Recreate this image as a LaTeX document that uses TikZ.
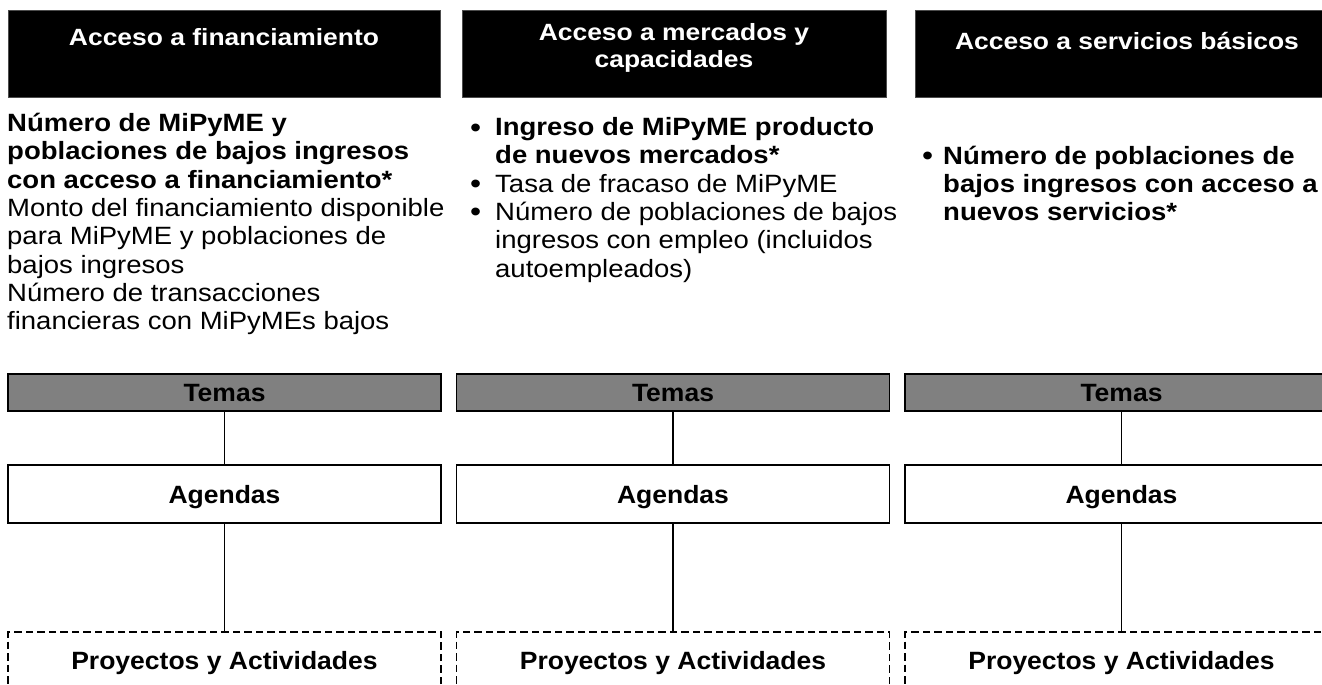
\documentclass[tikz,border=0pt]{standalone}
\usepackage{fontspec}
\setmainfont{Liberation Sans}
\newfontfamily\bodyfont[FakeStretch=1.1]{Liberation Sans}
\newfontfamily\headfont[FakeStretch=1.125]{Liberation Sans}
\newfontfamily\labfont[FakeStretch=1.06]{Liberation Sans}
\definecolor{temagray}{RGB}{128,128,128}
\newcommand{\mybul}[1]{\makebox[#1][l]{\raisebox{-0.06em}{\scalebox{1.15}{•}}}}
\newcommand{\myind}[1]{\hspace*{#1}}
\begin{document}
\begin{tikzpicture}[x=1pt,y=-1pt,
  hdrbox/.style={fill=black, draw=black!70, line width=0.75pt, minimum height=87pt, inner sep=0pt},
  hdrtext/.style={text=white, inner sep=0pt, anchor=base, font={\headfont\bfseries\fontsize{23.5}{26.7}\selectfont}},
  body/.style={inner sep=0pt, anchor=base west, font={\bodyfont\fontsize{25}{28.3}\selectfont}},
  lab/.style={inner sep=0pt, text depth=0pt, minimum width=433pt, font={\labfont\bfseries\fontsize{25}{30}\selectfont}},
  temabox/.style={lab, fill=temagray, draw=black, line width=1.6pt, minimum height=37pt},
  agbox/.style={lab, fill=white, draw=black, line width=1.6pt, minimum height=58pt},
  proybox/.style={lab, draw=black, dash pattern=on 7.5pt off 4pt, line width=1.4pt, minimum height=56pt},
  link/.style={draw=black, line width=1.4pt}
]
\clip (0,0) rectangle (1322,685);
\fill[white] (0,0) rectangle (1322,685);

% header boxes
\node[hdrbox, minimum width=432pt] (h1) at (224,53.5) {};
\node[hdrbox, minimum width=424pt] (h2) at (674.7,53.5) {};
\node[hdrbox, minimum width=424pt] (h3) at (1127,53.5) {};
\node[hdrtext] (ht1) at (224,46) {Acceso a financiamiento};
\node[hdrtext] (ht2) at (674,41) {\begin{tabular}[t]{@{}c@{}}Acceso a mercados y\\capacidades\end{tabular}};
\node[hdrtext] (ht3) at (1127,49) {Acceso a servicios básicos};

% indicator texts
\node[body] (b1) at (7,131.5) {\begin{tabular}[t]{@{}l@{}}
\textbf{Número de MiPyME y}\\
\textbf{poblaciones de bajos ingresos}\\
\textbf{con acceso a financiamiento*}\\
Monto del financiamiento disponible\\
para MiPyME y poblaciones de\\
bajos ingresos\\
Número de transacciones\\
financieras con MiPyMEs bajos
\end{tabular}};
\node[body] (b2) at (470,135.5) {\begin{tabular}[t]{@{}l@{}}
\mybul{25pt}\textbf{Ingreso de MiPyME producto}\\
\myind{25pt}\textbf{de nuevos mercados*}\\
\mybul{25pt}Tasa de fracaso de MiPyME\\
\mybul{25pt}Número de poblaciones de bajos\\
\myind{25pt}ingresos con empleo (incluidos\\
\myind{25pt}autoempleados)
\end{tabular}};
\node[body] (b3) at (922,164) {\begin{tabular}[t]{@{}l@{}}
\mybul{21pt}\textbf{Número de poblaciones de}\\
\myind{21pt}\textbf{bajos ingresos con acceso a}\\
\myind{21pt}\textbf{nuevos servicios*}
\end{tabular}};

% structure
\node[temabox] (t1) at (224.5,392.5) {Temas};
\node[temabox] (t2) at (673,392.5) {Temas};
\node[temabox] (t3) at (1121.5,392.5) {Temas};
\node[agbox] (a1) at (224.5,494) {Agendas};
\node[agbox] (a2) at (673,494) {Agendas};
\node[agbox] (a3) at (1121.5,494) {Agendas};
\node[proybox] (p1) at (224.5,660) {Proyectos y Actividades};
\node[proybox] (p2) at (673,660) {Proyectos y Actividades};
\node[proybox] (p3) at (1121.5,660) {Proyectos y Actividades};

\draw[link] (t1) -- (a1);
\draw[link] (t2) -- (a2);
\draw[link] (t3) -- (a3);
\draw[link] (a1) -- (p1);
\draw[link] (a2) -- (p2);
\draw[link] (a3) -- (p3);
\end{tikzpicture}
\end{document}
